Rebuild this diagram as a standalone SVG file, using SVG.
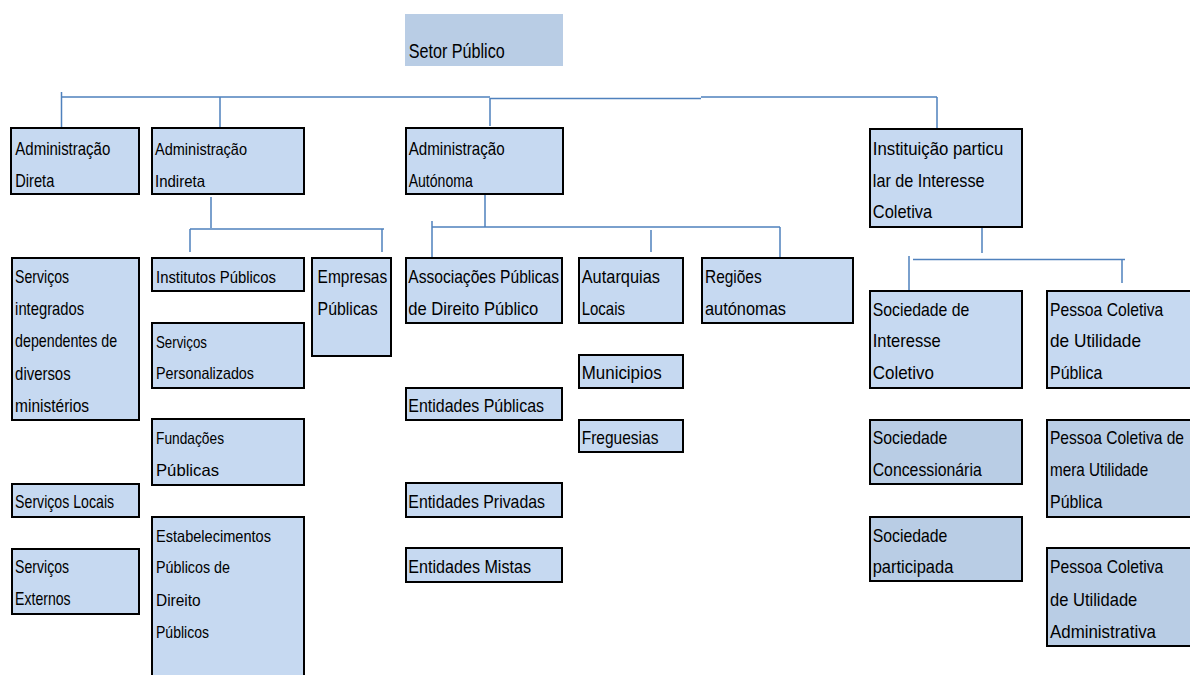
<svg xmlns="http://www.w3.org/2000/svg" width="1190" height="675" viewBox="0 0 1190 675">
<style>
.b{fill:#c6d9f1;stroke:#000;stroke-width:2}
.d{fill:#b9cde5;stroke:#000;stroke-width:2}
.t{font-family:"Liberation Sans",Arial,sans-serif;font-size:18.5px;fill:#000}
.s{font-family:"Liberation Sans",Arial,sans-serif;font-size:16.5px;fill:#000}
.c{fill:none;stroke:#4f81bd;stroke-width:1.5}
</style>
<rect width="1190" height="675" fill="#fff"/>
<g id="connectors" class="c">
<path d="M62,97 H490 M490,98.5 H701 M701,97 H937"/>
<path d="M61.5,92 V128 M220,97 V132 M490,98 V126 M937,97 V133"/>
<path d="M211,197 V228 M190,229 H384 M190,229 V252 M382,229 V252"/>
<path d="M485,194 V227 M432,227 H780 M432,221 V257 M651,230 V252 M780,227 V258"/>
<path d="M982,227 V253 M913,259.5 H1125 M909,256 V297 M1122,260 V283"/>
</g>
<g id="setor"><rect x="405" y="14" width="158" height="52" fill="#b9cde5"/><text class="t" style="font-size:21px" x="408.7" y="58" textLength="96" lengthAdjust="spacingAndGlyphs">Setor Público</text></g>
<g id="adm-direta"><rect class="b" x="11" y="128" width="128" height="66"/><text class="t" x="15.3" y="155" textLength="95" lengthAdjust="spacingAndGlyphs">Administração</text><text class="t" x="15.3" y="187" textLength="39" lengthAdjust="spacingAndGlyphs">Direta</text></g>
<g id="adm-indireta"><rect class="b" x="152" y="128" width="152" height="66"/><text class="s" x="155" y="155" textLength="92" lengthAdjust="spacingAndGlyphs">Administração</text><text class="s" x="155" y="187" textLength="50" lengthAdjust="spacingAndGlyphs">Indireta</text></g>
<g id="adm-autonoma"><rect class="b" x="406" y="128" width="157" height="66"/><text class="t" x="408.7" y="155" textLength="96" lengthAdjust="spacingAndGlyphs">Administração</text><text class="t" x="408.7" y="187" textLength="64" lengthAdjust="spacingAndGlyphs">Autónoma</text></g>
<g id="instituicao"><rect class="b" x="870" y="129" width="152" height="98"/><text class="t" x="872.8" y="155" textLength="130.5" lengthAdjust="spacingAndGlyphs">Instituição particu</text><text class="t" x="872.8" y="187" textLength="111.7" lengthAdjust="spacingAndGlyphs">lar de Interesse</text><text class="t" x="872.8" y="218" textLength="59.4" lengthAdjust="spacingAndGlyphs">Coletiva</text></g>
<g id="servicos-integrados"><rect class="b" x="12" y="258" width="127" height="162"/><text class="t" x="15.1" y="283.3" textLength="54" lengthAdjust="spacingAndGlyphs">Serviços</text><text class="t" x="15.1" y="315" textLength="69" lengthAdjust="spacingAndGlyphs">integrados</text><text class="t" x="15.1" y="347" textLength="102" lengthAdjust="spacingAndGlyphs">dependentes de</text><text class="t" x="15.1" y="380" textLength="55.5" lengthAdjust="spacingAndGlyphs">diversos</text><text class="t" x="15.1" y="411.7" textLength="74" lengthAdjust="spacingAndGlyphs">ministérios</text></g>
<g id="institutos"><rect class="b" x="152" y="258" width="152" height="33"/><text class="s" x="156" y="283.3" textLength="120" lengthAdjust="spacingAndGlyphs">Institutos Públicos</text></g>
<g id="servicos-personalizados"><rect class="b" x="152" y="323" width="152" height="65"/><text class="s" x="156" y="348.3" textLength="51" lengthAdjust="spacingAndGlyphs">Serviços</text><text class="s" x="156" y="379.3" textLength="98" lengthAdjust="spacingAndGlyphs">Personalizados</text></g>
<g id="fundacoes"><rect class="b" x="152" y="419" width="152" height="66"/><text class="s" x="156" y="444" textLength="68" lengthAdjust="spacingAndGlyphs">Fundações</text><text class="s" x="156" y="476" textLength="63" lengthAdjust="spacingAndGlyphs">Públicas</text></g>
<g id="estabelecimentos"><rect class="b" x="152" y="517" width="152" height="170"/><text class="s" x="156" y="541.7" textLength="115" lengthAdjust="spacingAndGlyphs">Estabelecimentos</text><text class="s" x="156" y="573.3" textLength="74" lengthAdjust="spacingAndGlyphs">Públicos de</text><text class="s" x="156" y="605.7" textLength="44.7" lengthAdjust="spacingAndGlyphs">Direito</text><text class="s" x="156" y="638.3" textLength="53" lengthAdjust="spacingAndGlyphs">Públicos</text></g>
<g id="empresas"><rect class="b" x="312" y="258" width="79" height="98"/><text class="t" x="317.6" y="283.3" textLength="69.6" lengthAdjust="spacingAndGlyphs">Empresas</text><text class="t" x="317.6" y="315" textLength="60" lengthAdjust="spacingAndGlyphs">Públicas</text></g>
<g id="servicos-locais"><rect class="b" x="12" y="484" width="127" height="33"/><text class="t" x="15.1" y="508.3" textLength="99" lengthAdjust="spacingAndGlyphs">Serviços Locais</text></g>
<g id="servicos-externos"><rect class="b" x="12" y="549" width="127" height="65"/><text class="t" x="15.1" y="573.3" textLength="54" lengthAdjust="spacingAndGlyphs">Serviços</text><text class="t" x="15.1" y="605" textLength="55.5" lengthAdjust="spacingAndGlyphs">Externos</text></g>
<g id="associacoes"><rect class="b" x="406" y="258" width="156" height="65"/><text class="t" x="408.3" y="283.3" textLength="150.7" lengthAdjust="spacingAndGlyphs">Associações Públicas</text><text class="t" x="408.3" y="315" textLength="130" lengthAdjust="spacingAndGlyphs">de Direito Público</text></g>
<g id="entidades-publicas"><rect class="b" x="406" y="388" width="156" height="32"/><text class="t" x="408.3" y="411.7" textLength="135.7" lengthAdjust="spacingAndGlyphs">Entidades Públicas</text></g>
<g id="entidades-privadas"><rect class="b" x="406" y="483" width="156" height="34"/><text class="t" x="408.3" y="508.3" textLength="136.7" lengthAdjust="spacingAndGlyphs">Entidades Privadas</text></g>
<g id="entidades-mistas"><rect class="b" x="406" y="548" width="156" height="34"/><text class="t" x="408.3" y="573.3" textLength="122.7" lengthAdjust="spacingAndGlyphs">Entidades Mistas</text></g>
<g id="autarquias"><rect class="b" x="579" y="258" width="104" height="65"/><text class="t" x="581.7" y="283.3" textLength="78.3" lengthAdjust="spacingAndGlyphs">Autarquias</text><text class="t" x="581.7" y="315" textLength="43.3" lengthAdjust="spacingAndGlyphs">Locais</text></g>
<g id="municipios"><rect class="b" x="579" y="355" width="104" height="33"/><text class="t" x="581.7" y="379.3" textLength="80" lengthAdjust="spacingAndGlyphs">Municipios</text></g>
<g id="freguesias"><rect class="b" x="579" y="420" width="104" height="32"/><text class="t" x="581.7" y="444" textLength="76.7" lengthAdjust="spacingAndGlyphs">Freguesias</text></g>
<g id="regioes"><rect class="b" x="702" y="258" width="151" height="65"/><text class="t" x="705" y="283.3" textLength="56.7" lengthAdjust="spacingAndGlyphs">Regiões</text><text class="t" x="705" y="315" textLength="81" lengthAdjust="spacingAndGlyphs">autónomas</text></g>
<g id="sociedade-interesse"><rect class="b" x="870" y="291" width="152" height="97"/><text class="t" x="872.7" y="316" textLength="96.7" lengthAdjust="spacingAndGlyphs">Sociedade de</text><text class="t" x="872.7" y="347.3" textLength="68" lengthAdjust="spacingAndGlyphs">Interesse</text><text class="t" x="872.7" y="379.3" textLength="61.3" lengthAdjust="spacingAndGlyphs">Coletivo</text></g>
<g id="sociedade-concessionaria"><rect class="d" x="870" y="420" width="152" height="64"/><text class="t" x="872.7" y="444" textLength="74.7" lengthAdjust="spacingAndGlyphs">Sociedade</text><text class="t" x="872.7" y="476" textLength="109" lengthAdjust="spacingAndGlyphs">Concessionária</text></g>
<g id="sociedade-participada"><rect class="d" x="870" y="517" width="152" height="64"/><text class="t" x="872.7" y="541.7" textLength="74.7" lengthAdjust="spacingAndGlyphs">Sociedade</text><text class="t" x="872.7" y="572.7" textLength="80.7" lengthAdjust="spacingAndGlyphs">participada</text></g>
<g id="pessoa-utilidade-publica"><rect class="b" x="1047" y="291" width="150" height="97"/><text class="t" x="1050" y="316" textLength="113.3" lengthAdjust="spacingAndGlyphs">Pessoa Coletiva</text><text class="t" x="1050" y="347.3" textLength="91" lengthAdjust="spacingAndGlyphs">de  Utilidade</text><text class="t" x="1050" y="379.3" textLength="52.3" lengthAdjust="spacingAndGlyphs">Pública</text></g>
<g id="pessoa-mera-utilidade"><rect class="d" x="1047" y="420" width="150" height="97"/><text class="t" x="1050" y="444" textLength="134" lengthAdjust="spacingAndGlyphs">Pessoa Coletiva de</text><text class="t" x="1050" y="476" textLength="98.3" lengthAdjust="spacingAndGlyphs">mera Utilidade</text><text class="t" x="1050" y="508.3" textLength="52.3" lengthAdjust="spacingAndGlyphs">Pública</text></g>
<g id="pessoa-utilidade-administrativa"><rect class="d" x="1047" y="548" width="150" height="98"/><text class="t" x="1050" y="573.3" textLength="113.3" lengthAdjust="spacingAndGlyphs">Pessoa Coletiva</text><text class="t" x="1050" y="605.7" textLength="87.3" lengthAdjust="spacingAndGlyphs">de Utilidade</text><text class="t" x="1050" y="638.3" textLength="106" lengthAdjust="spacingAndGlyphs">Administrativa</text></g>
</svg>
